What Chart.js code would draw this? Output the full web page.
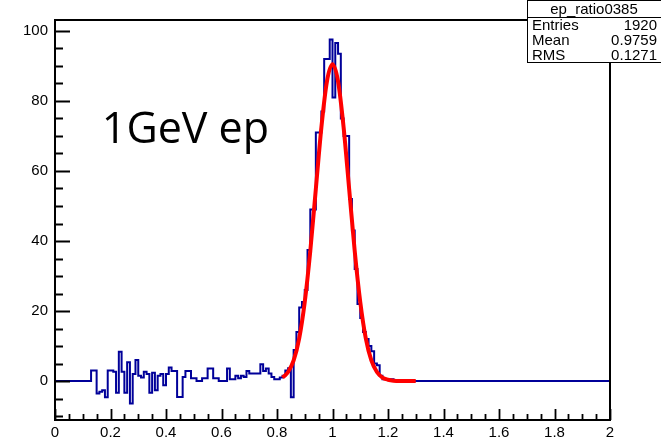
<!DOCTYPE html>
<html>
<head>
<meta charset="utf-8">
<script src="https://cdn.jsdelivr.net/npm/chart.js@4/dist/chart.umd.min.js"></script>
<style>
  body { margin: 0; background: #fff; }
  canvas { display: block; }
</style>
</head>
<body>
<canvas id="hist" width="661" height="445"></canvas>
<script>
// histogram ep_ratio0385 : 200 bins from 0 to 2
const xMin = 0;
const xMax = 2;
const binWidth = 0.01;

// bin contents, bin 0 .. bin 199
const counts = [
  0, 0, 0, 0, 0, 0, 0, 0, 0, 0,
  0, 0, 0, 3, 3, -3.5, -3, -2.6, -4.6, 3,
  3, 2.7, -3.3, 8.4, 2.7, -3.3, 5.4, -6.4, 2, 6,
  1.5, 1, 2.7, 2, -3.3, 2.4, -2.6, 1.5, 2, -1.2,
  2, 3.9, 2.9, 2.9, -4.5, -4.5, 1.2, 2.9, 2.9, 0.8,
  0.8, 0, 0, 0.8, 0.8, 3.6, 3.6, 0.8, 0.8, 0,
  0, 0, 3.6, 0.5, 0.5, 1.5, 0.8, 1.5, 1.2, 2.9,
  2.2, 2.2, 2.2, 2.2, 4.8, 2.9, 3.6, 2.2, 1.2, 0.5,
  0.5, 1, 1.5, 3, 3.7, -4.6, 8.9, 14, 21, 22.6,
  26, 37.4, 49, 49, 71, 71, 77, 92, 92, 97.5,
  81, 96.5, 93.5, 75, 70, 70, 52, 43, 32, 22,
  18, 14, 12, 10, 8.5, 5, 4.5, 1.5, 0.5, 0.5,
  0.5, 0.5, 0, 0, 0, 0, 0, 0, 0, 0,
  0, 0, 0, 0, 0, 0, 0, 0, 0, 0,
  0, 0, 0, 0, 0, 0, 0, 0, 0, 0,
  0, 0, 0, 0, 0, 0, 0, 0, 0, 0,
  0, 0, 0, 0, 0, 0, 0, 0, 0, 0,
  0, 0, 0, 0, 0, 0, 0, 0, 0, 0,
  0, 0, 0, 0, 0, 0, 0, 0, 0, 0,
  0, 0, 0, 0, 0, 0, 0, 0, 0, 0
];

// gaussian fit curve
const fitX = [0.82, 0.84, 0.86, 0.88, 0.90, 0.92, 0.94, 0.96, 0.98, 1.00,
              1.02, 1.04, 1.06, 1.08, 1.10, 1.12, 1.14, 1.16, 1.18, 1.20,
              1.22, 1.24, 1.26, 1.28, 1.30];
const fitY = [1.0, 2.6, 5.9, 12.2, 22.6, 37.2, 54.9, 72.5, 85.6, 90.5,
              85.6, 72.5, 54.9, 37.2, 22.6, 12.2, 5.9, 2.6, 1.0, 0.4,
              0.1, 0, 0, 0, 0];

// stats box
const statsTitle = 'ep_ratio0385';
const statsNames = ['Entries', 'Mean', 'RMS'];
const statsValues = ['1920', '0.9759', '0.1271'];
const label = '1GeV ep';

// step outline: each point sits on a bin's low edge, last point closes at xMax
const histPoints = counts.map((c, i) => ({ x: xMin + i * binWidth, y: c }));
histPoints.push({ x: xMax, y: counts[counts.length - 1] });

const fitPoints = fitX.map((x, i) => ({ x: x, y: fitY[i] }));

const axisFont = { family: 'Liberation Sans, Arial, sans-serif', size: 15 };

// ROOT style frame, inward ticks, text label and stats box
const rootStyle = {
  id: 'rootStyle',
  afterDraw(chart) {
    const ctx = chart.ctx;
    const a = chart.chartArea;
    const xs = chart.scales.x;
    const ys = chart.scales.y;
    ctx.save();
    ctx.strokeStyle = '#000';
    ctx.lineWidth = 2;
    ctx.strokeRect(a.left, a.top, a.right - a.left, a.bottom - a.top);

    ctx.beginPath();
    for (let v = -10; v <= 100; v += 5) {
      const py = Math.round(ys.getPixelForValue(v)) + 0.5;
      const len = v % 20 === 0 ? 15 : 8;
      ctx.moveTo(a.left, py);
      ctx.lineTo(a.left + len, py);
    }
    for (let i = 0; i <= 40; i++) {
      const px = Math.round(xs.getPixelForValue(i * 0.05)) + 0.5;
      const len = i % 4 === 0 ? 11 : 6;
      ctx.moveTo(px, a.bottom);
      ctx.lineTo(px, a.bottom - len);
    }
    ctx.lineWidth = 1.8;
    ctx.stroke();

    // big label
    ctx.fillStyle = '#000';
    ctx.font = '43px "Open Sans", sans-serif';
    ctx.textAlign = 'center';
    ctx.textBaseline = 'middle';
    ctx.fillText(label, xs.getPixelForValue(0.47), ys.getPixelForValue(71.5));

    // stats box
    const bx = 527, by = 0, bw = 140, headH = 17, rowH = 15;
    const bh = headH + rowH * statsNames.length;
    ctx.fillStyle = '#fff';
    ctx.fillRect(bx, by, bw, bh);
    ctx.lineWidth = 1;
    ctx.strokeStyle = '#000';
    ctx.strokeRect(bx + 0.5, by + 0.5, bw, bh);
    ctx.beginPath();
    ctx.moveTo(bx, by + headH + 0.5);
    ctx.lineTo(bx + bw, by + headH + 0.5);
    ctx.stroke();
    ctx.fillStyle = '#000';
    ctx.font = '15px "Liberation Sans", Arial, sans-serif';
    ctx.textAlign = 'center';
    ctx.fillText(statsTitle, 594, by + headH / 2 + 1);
    statsNames.forEach((n, i) => {
      const ty = by + headH + rowH * i + rowH / 2 + 1;
      ctx.textAlign = 'left';
      ctx.fillText(n, 532, ty);
      ctx.textAlign = 'right';
      ctx.fillText(statsValues[i], 657, ty);
    });
    ctx.restore();
  }
};

new Chart(document.getElementById('hist'), {
  type: 'line',
  data: {
    datasets: [
      {
        label: 'fit',
        data: fitPoints,
        borderColor: '#ff0000',
        borderWidth: 4,
        pointRadius: 0,
        fill: false,
        cubicInterpolationMode: 'monotone',
        order: 0
      },
      {
        label: statsTitle,
        data: histPoints,
        borderColor: '#000099',
        borderWidth: 2,
        pointRadius: 0,
        fill: false,
        stepped: true,
        order: 1
      }
    ]
  },
  options: {
    responsive: false,
    animation: false,
    layout: { padding: { top: 20, right: 51, left: 0, bottom: 0 } },
    plugins: {
      legend: { display: false },
      tooltip: { enabled: false }
    },
    scales: {
      x: {
        type: 'linear',
        min: xMin,
        max: xMax,
        grid: { display: false, drawTicks: false },
        border: { display: false },
        ticks: {
          stepSize: 0.2,
          color: '#000',
          font: axisFont,
          padding: 4,
          maxRotation: 0,
          autoSkip: false,
          callback: v => String(Number(v.toFixed(1)))
        },
        afterFit: s => { s.height = 25; }
      },
      y: {
        type: 'linear',
        min: -11.1,
        max: 103.1,
        grid: { display: false, drawTicks: false },
        border: { display: false },
        ticks: {
          stepSize: 20,
          includeBounds: false,
          color: '#000',
          font: axisFont,
          padding: 7
        },
        afterFit: s => { s.width = 55; }
      }
    }
  },
  plugins: [rootStyle]
});
</script>
</body>
</html>
